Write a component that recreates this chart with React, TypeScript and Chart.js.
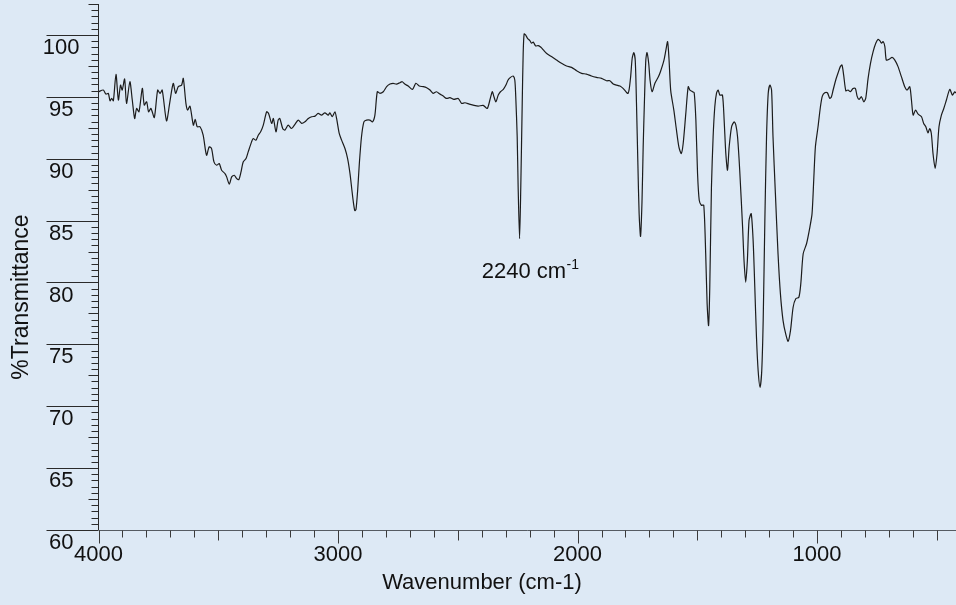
import React, { useEffect, useRef } from "react";
import { Chart, registerables } from "chart.js";

Chart.register(...registerables);

// Wavenumber (cm-1), descending
const WAVENUMBERS = [
  4000, 3980, 3969, 3959, 3952, 3945, 3938, 3927, 3917, 3908, 3901, 3891, 3883, 3869, 3859, 3849,
  3841, 3831, 3817, 3809, 3799, 3791, 3781, 3767, 3753, 3743, 3734, 3716, 3702, 3688, 3678, 3667,
  3653, 3646, 3635, 3628, 3618, 3604, 3596, 3588, 3576, 3563, 3549, 3538, 3528, 3518, 3507, 3496,
  3486, 3472, 3465, 3454, 3444, 3433, 3423, 3414, 3405, 3396, 3384, 3375, 3361, 3354, 3343, 3333,
  3323, 3312, 3298, 3290, 3277, 3270, 3259, 3250, 3243, 3231, 3222, 3208, 3194, 3180, 3166, 3152,
  3138, 3124, 3110, 3096, 3083, 3069, 3055, 3041, 3034, 3024, 3013, 3006, 2995, 2985, 2971, 2960,
  2950, 2942, 2937, 2930, 2925, 2918, 2911, 2902, 2892, 2881, 2867, 2856, 2846, 2836, 2825, 2811,
  2797, 2783, 2770, 2756, 2742, 2732, 2721, 2707, 2689, 2675, 2661, 2644, 2630, 2616, 2603, 2589,
  2575, 2561, 2547, 2533, 2516, 2498, 2484, 2470, 2452, 2436, 2415, 2394, 2377, 2366, 2356, 2349,
  2341, 2331, 2322, 2310, 2299, 2290, 2280, 2269, 2262, 2258, 2252, 2248, 2242, 2237, 2231, 2227,
  2223, 2217, 2209, 2199, 2192, 2185, 2175, 2164, 2153, 2143, 2130, 2109, 2088, 2067, 2046, 2025,
  2004, 1983, 1963, 1942, 1921, 1900, 1879, 1865, 1851, 1837, 1823, 1810, 1789, 1779, 1772, 1765,
  1759, 1754, 1748, 1743, 1737, 1731, 1726, 1721, 1715, 1710, 1703, 1697, 1689, 1677, 1663, 1654,
  1640, 1631, 1624, 1618, 1611, 1598, 1587, 1577, 1567, 1559, 1548, 1538, 1531, 1520, 1513, 1506,
  1499, 1492, 1483, 1473, 1465, 1459, 1453, 1448, 1441, 1434, 1427, 1420, 1413, 1406, 1395, 1388,
  1381, 1374, 1367, 1357, 1346, 1339, 1332, 1323, 1311, 1305, 1298, 1291, 1284, 1275, 1267, 1260,
  1253, 1246, 1238, 1231, 1225, 1218, 1211, 1204, 1197, 1190, 1184, 1174, 1163, 1153, 1142, 1131,
  1121, 1111, 1100, 1089, 1076, 1068, 1058, 1044, 1030, 1021, 1014, 1007, 996, 986, 978, 968,
  957, 947, 940, 933, 922, 912, 903, 896, 889, 880, 871, 861, 850, 840, 833, 825,
  815, 805, 797, 787, 777, 766, 755, 745, 738, 731, 724, 717, 711, 699, 687, 676,
  662, 648, 634, 624, 613, 606, 599, 589, 578, 564, 555, 546, 537, 530, 523, 516,
  507, 499, 491, 481, 471, 460, 446, 435, 425, 420,
];

// %Transmittance
const TRANSMITTANCE = [
  95.41, 95.55, 95.22, 95.28, 94.68, 94.87, 94.68, 96.82, 94.74, 95.95, 95.55, 96.44, 94.47, 96.22, 94.74, 93.25,
  94.06, 93.79, 95.68, 94.33, 94.6, 93.79, 94.06, 93.33, 95.55, 95.28, 95.55, 93.06, 94.6, 96.09, 95.28, 95.82,
  95.95, 96.49, 94.47, 93.93, 94.25, 92.71, 93.17, 92.58, 92.58, 91.9, 90.28, 90.96, 90.82, 89.74, 89.47, 89.61,
  89.07, 88.8, 88.53, 87.94, 88.53, 88.66, 88.39, 88.31, 88.93, 89.74, 90.01, 90.55, 91.36, 91.63, 91.5, 91.9,
  92.17, 92.71, 93.79, 93.66, 92.85, 93.25, 92.17, 93.12, 93.25, 92.44, 92.31, 92.71, 92.44, 92.77, 93.12, 92.85,
  92.98, 93.25, 93.39, 93.44, 93.66, 93.52, 93.71, 93.52, 93.71, 93.39, 93.79, 93.25, 92.04, 91.5, 90.82, 90.01,
  88.8, 87.45, 86.64, 85.8, 85.9, 87.45, 89.61, 91.77, 92.98, 93.12, 93.12, 92.98, 93.52, 95.41, 95.28, 95.41,
  95.82, 96.03, 96.09, 96.03, 96.14, 96.22, 96.03, 95.87, 95.6, 96.09, 95.87, 95.82, 95.74, 95.55, 95.28, 95.41,
  95.22, 95.06, 94.87, 94.93, 94.79, 94.87, 94.47, 94.52, 94.41, 94.33, 94.25, 94.31, 94.06, 94.74, 95.41, 95.01,
  94.6, 95.14, 95.41, 95.6, 95.95, 96.36, 96.57, 96.68, 96.36, 95.01, 91.77, 87.72, 83.54, 87.72, 94.47, 98.52,
  100.08, 100.0, 99.73, 99.54, 99.33, 99.43, 99.11, 99.14, 99.0, 98.79, 98.52, 98.25, 97.98, 97.71, 97.49, 97.38,
  97.11, 96.9, 96.84, 96.68, 96.57, 96.49, 96.3, 96.3, 96.03, 95.95, 95.87, 95.68, 95.28, 96.5, 98.1, 98.57,
  97.9, 94.5, 89.5, 85.6, 83.73, 86.5, 90.96, 94.5, 97.98, 98.57, 97.71, 96.3, 95.41, 96.1, 96.6, 97.03,
  97.9, 98.79, 99.46, 98.0, 95.5, 93.93, 92.31, 90.96, 90.42, 91.23, 93.66, 95.82, 95.55, 95.41, 95.33, 93.12,
  88.8, 86.64, 86.24, 86.24, 82.32, 78.27, 76.52, 79.62, 87.72, 91.77, 94.2, 95.28, 95.55, 95.14, 95.14, 93.12,
  90.42, 89.07, 90.96, 92.58, 92.98, 92.71, 91.77, 89.07, 84.48, 81.78, 80.03, 81.78, 85.02, 85.56, 83.4, 79.62,
  75.57, 72.87, 71.53, 72.87, 76.92, 85.02, 91.77, 95.28, 95.95, 95.55, 91.77, 87.18, 82.32, 79.08, 76.92, 75.84,
  75.25, 76.11, 78.0, 78.68, 78.81, 79.89, 82.32, 83.13, 84.48, 85.56, 88.26, 90.96, 92.58, 94.2, 95.06, 95.33,
  95.33, 94.87, 95.01, 95.55, 96.36, 96.95, 97.44, 97.57, 96.76, 95.49, 95.55, 95.41, 95.68, 95.68, 95.06, 94.79,
  95.01, 94.6, 94.87, 96.49, 97.71, 98.65, 99.33, 99.65, 99.54, 99.33, 99.46, 99.06, 97.98, 98.03, 98.19, 97.98,
  97.44, 96.63, 95.82, 95.55, 95.82, 94.74, 93.52, 93.93, 93.6, 93.39, 92.85, 92.58, 92.09, 92.44, 92.04, 90.42,
  89.21, 90.42, 92.58, 93.52, 94.06, 94.74, 95.6, 95.14, 95.41, 95.3,
];

const X_TICK_LABELS = [4000, 3000, 2000, 1000];
const Y_TICK_LABELS = [60, 65, 70, 75, 80, 85, 90, 95, 100];
const X_MIN = 420;
const X_MAX = 4000;
const Y_MIN = 60;
const Y_MAX = 102.5;
const X_TITLE = "Wavenumber (cm-1)";
const Y_TITLE = "%Transmittance";
const ANNOTATION_TEXT = "2240 cm";
const ANNOTATION_SUP = "-1";
const ANNOTATION_X = 2400;
const ANNOTATION_Y = 80.4;

const BG = "#dde9f5";
const FONT = '"Liberation Sans", Arial, Helvetica, sans-serif';

const bgPlugin = {
  id: "bg",
  beforeDraw(chart: any) {
    const ctx = chart.ctx;
    ctx.save();
    ctx.fillStyle = BG;
    ctx.fillRect(0, 0, chart.width, chart.height);
    ctx.restore();
  },
};

const axesPlugin = {
  id: "irAxes",
  afterDraw(chart: any) {
    const ctx = chart.ctx;
    const xs = chart.scales.x;
    const ys = chart.scales.y;
    const { left, right, top, bottom } = chart.chartArea;
    ctx.save();
    ctx.lineWidth = 1;

    // y minor / medium / major ticks
    ctx.strokeStyle = "#2a2a2a";
    ctx.beginPath();
    for (let i = 0; i <= Math.round((Y_MAX - Y_MIN) / 0.5); i++) {
      const v = Y_MIN + i * 0.5;
      const y = Math.round(ys.getPixelForValue(v)) + 0.5;
      const major = Math.abs(v % 5) < 1e-6;
      const mid = Math.abs(v % 2.5) < 1e-6;
      const len = major ? 52 : mid ? 10 : 7;
      ctx.moveTo(left, y);
      ctx.lineTo(left - len, y);
    }
    ctx.stroke();

    // y axis line
    ctx.beginPath();
    const ax = Math.floor(left) + 0.5;
    ctx.moveTo(ax, top);
    ctx.lineTo(ax, bottom);
    ctx.stroke();

    // x axis line
    ctx.strokeStyle = "#555b62";
    ctx.beginPath();
    const by = Math.round(bottom) + 0.5;
    ctx.moveTo(left, by);
    ctx.lineTo(right, by);
    ctx.stroke();

    // x ticks
    ctx.strokeStyle = "#3a3a3a";
    ctx.beginPath();
    for (let v = X_MAX; v >= X_MIN; v -= 100) {
      const x = Math.round(xs.getPixelForValue(v)) + 0.5;
      const len = v % 1000 === 0 ? 13 : v % 500 === 0 ? 10 : 7;
      ctx.moveTo(x, by);
      ctx.lineTo(x, by + len);
    }
    ctx.stroke();

    // titles
    ctx.fillStyle = "#111";
    ctx.font = `22px ${FONT}`;
    ctx.textAlign = "center";
    ctx.textBaseline = "alphabetic";
    ctx.fillText(X_TITLE, 482, 589);

    ctx.save();
    ctx.translate(28, 297);
    ctx.rotate(-Math.PI / 2);
    ctx.font = `23px ${FONT}`;
    ctx.fillText(Y_TITLE, 0, 0);
    ctx.restore();

    // annotation
    const axp = xs.getPixelForValue(ANNOTATION_X);
    const ayp = ys.getPixelForValue(ANNOTATION_Y);
    ctx.textAlign = "left";
    ctx.font = `22px ${FONT}`;
    ctx.fillText(ANNOTATION_TEXT, axp, ayp);
    const w = ctx.measureText(ANNOTATION_TEXT).width;
    ctx.font = `14px ${FONT}`;
    ctx.fillText(ANNOTATION_SUP, axp + w + 0.5, ayp - 9);

    ctx.restore();
  },
};

export default function App() {
  const ref = useRef<HTMLCanvasElement | null>(null);

  useEffect(() => {
    if (!ref.current) return;
    const points = WAVENUMBERS.map((w, i) => ({ x: w, y: TRANSMITTANCE[i] }));
    const chart = new Chart(ref.current, {
      type: "line",
      data: {
        datasets: [
          {
            data: points,
            borderColor: "#1c1c1c",
            borderWidth: 1.2,
            pointRadius: 0,
            tension: 0.25,
            fill: false,
          },
        ],
      },
      options: {
        responsive: false,
        animation: false,
        devicePixelRatio: 1,
        layout: { padding: { top: 4, right: 0, bottom: 0, left: 0 } },
        plugins: { legend: { display: false }, tooltip: { enabled: false } },
        scales: {
          x: {
            type: "linear",
            reverse: true,
            min: X_MIN,
            max: X_MAX,
            grid: { display: false, drawTicks: false },
            border: { display: false },
            afterBuildTicks: (s: any) => {
              s.ticks = X_TICK_LABELS.map((v) => ({ value: v }));
            },
            ticks: {
              autoSkip: false,
              maxRotation: 0,
              padding: 12,
              color: "#111",
              font: { family: FONT, size: 22 },
              callback: (v: any) => String(v),
            },
            afterFit: (s: any) => {
              s.height = 75;
              s.paddingLeft = 0;
              s.paddingRight = 0;
            },
          },
          y: {
            type: "linear",
            min: Y_MIN,
            max: Y_MAX,
            grid: { display: false, drawTicks: false },
            border: { display: false },
            afterBuildTicks: (s: any) => {
              s.ticks = Y_TICK_LABELS.map((v) => ({ value: v }));
            },
            ticks: {
              autoSkip: false,
              crossAlign: "center",
              padding: 19,
              labelOffset: 13,
              color: "#111",
              font: { family: FONT, size: 22 },
              callback: (v: any) => String(v),
            },
            afterFit: (s: any) => {
              s.width = 98.5;
              s.paddingTop = 0;
              s.paddingBottom = 0;
            },
          },
        },
      } as any,
      plugins: [bgPlugin, axesPlugin],
    });
    return () => chart.destroy();
  }, []);

  return (
    <div style={{ position: "absolute", left: 0, top: 0, width: 956, height: 605, background: BG }}>
      <canvas ref={ref} width={956} height={605} style={{ display: "block", width: 956, height: 605 }} />
    </div>
  );
}
